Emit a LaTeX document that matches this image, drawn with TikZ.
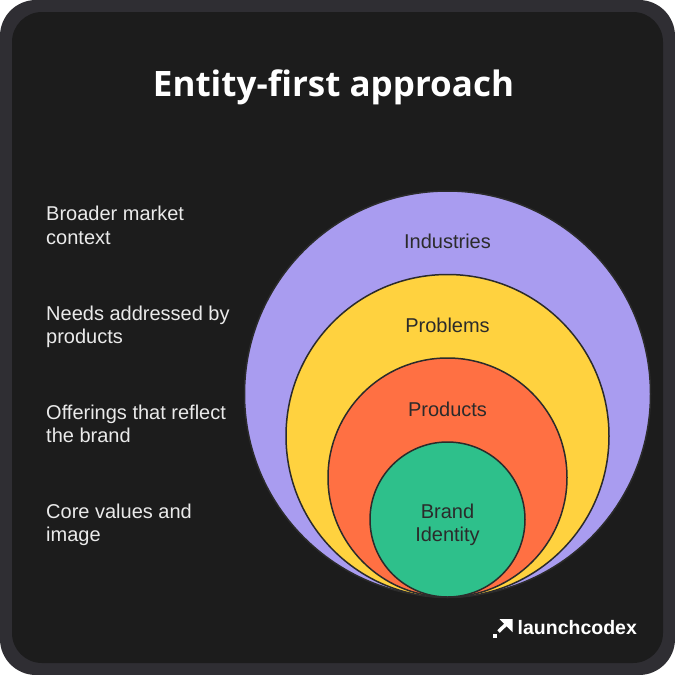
\documentclass[tikz,border=0pt]{standalone}
\usepackage{fontspec}
\setmainfont{Liberation Sans}
\newfontfamily\titlefont{Open Sans}
\usetikzlibrary{arrows.meta}
\definecolor{framec}{HTML}{2F2E33}
\definecolor{bgc}{HTML}{1C1C1C}
\definecolor{purp}{HTML}{A99CF0}
\definecolor{yel}{HTML}{FFD23F}
\definecolor{ora}{HTML}{FF7043}
\definecolor{grn}{HTML}{2EC08B}
\definecolor{ink}{HTML}{2B2B2B}
\definecolor{lite}{HTML}{EAEAEA}
\begin{document}
\begin{tikzpicture}[x=1pt,y=-1pt,
  ring/.style={circle,draw=ink,line width=1.5pt,inner sep=0pt},
  sidetxt/.style={anchor=base west,inner sep=0pt,text=lite,font=\fontsize{20}{24}\selectfont},
  ringtxt/.style={anchor=base,inner sep=0pt,text=ink,font=\fontsize{20}{24}\selectfont}]
\useasboundingbox (0,0) rectangle (675,675);
\fill[framec,rounded corners=36pt] (0,0) rectangle (675,675);
\fill[bgc,rounded corners=30pt] (12,12) rectangle (663,663);
\node[anchor=base,inner sep=0pt,text=white,font=\titlefont\bfseries\fontsize{35}{40}\selectfont] (title) at (333.5,96.7) {Entity-first approach};
% circles
\node[ring,fill=purp,minimum size=406pt] (c1) at (447.5,394) {};
\node[ring,fill=yel,minimum size=323pt] (c2) at (447.5,436) {};
\node[ring,fill=ora,minimum size=239pt] (c3) at (447.5,477.5) {};
\node[ring,fill=grn,minimum size=155pt] (c4) at (447.5,519.5) {};
\node[ringtxt] (t1) at (447.5,248.3) {Industries};
\node[ringtxt] (t2) at (447.5,332.3) {Problems};
\node[ringtxt] (t3) at (447.5,416) {Products};
\node[ringtxt] (t4a) at (447.5,518.3) {Brand};
\node[ringtxt] (t4b) at (447.5,541.7) {Identity};
% side texts
\node[sidetxt] (s1a) at (46,220.7) {Broader market};
\node[sidetxt] (s1b) at (46,244.5) {context};
\node[sidetxt] (s2a) at (46,320) {Needs addressed by};
\node[sidetxt] (s2b) at (46,343.7) {products};
\node[sidetxt] (s3a) at (46,419.3) {Offerings that reflect};
\node[sidetxt] (s3b) at (46,442.7) {the brand};
\node[sidetxt] (s4a) at (46,518.3) {Core values and};
\node[sidetxt] (s4b) at (46,541.7) {image};
% logo
\coordinate (arA) at (498.5,631.5);
\coordinate (arB) at (508,622.5);
\draw[white,line width=3.5pt] (arA) -- (arB);
\fill[white] (499.5,619) -- (512.5,619) -- (512.5,632) -- cycle;
\fill[white] (493,633.5) rectangle (497,637.5);
\node[anchor=base west,inner sep=0pt,text=white,font=\bfseries\fontsize{19.5}{22}\selectfont] (logo) at (517.5,634.3) {launchcodex};
\end{tikzpicture}
\end{document}
